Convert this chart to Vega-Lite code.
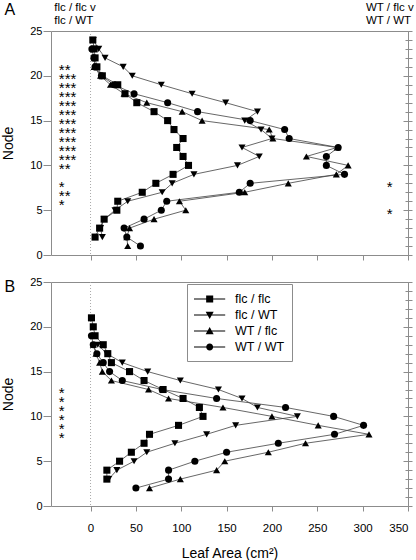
{
  "$schema": "https://vega.github.io/schema/vega-lite/v6.json",
  "padding": {"left": 1, "top": 1, "right": 0, "bottom": 0},
  "bounds": "flush",
  "spacing": 27,
  "config": {
    "font": "Liberation Sans",
    "view": {"stroke": "#8c8c8c", "strokeWidth": 1},
    "axis": {"grid": false, "domain": false, "tickColor": "#8c8c8c", "labelColor": "#000", "titleColor": "#000", "labelFont": "Liberation Sans", "titleFont": "Liberation Sans", "titleFontWeight": "normal"},
    "text": {"font": "Liberation Sans", "color": "#000"}
  },
  "datasets": {
    "series": [
      {"p":"A","g":"flc / flc","n":24,"a":2.5},{"p":"A","g":"flc / flc","n":23,"a":4},{"p":"A","g":"flc / flc","n":22,"a":5},{"p":"A","g":"flc / flc","n":21,"a":7},{"p":"A","g":"flc / flc","n":20,"a":13},{"p":"A","g":"flc / flc","n":19,"a":30},{"p":"A","g":"flc / flc","n":18,"a":38},{"p":"A","g":"flc / flc","n":17,"a":51},{"p":"A","g":"flc / flc","n":16,"a":70},{"p":"A","g":"flc / flc","n":15,"a":85},{"p":"A","g":"flc / flc","n":14,"a":92},{"p":"A","g":"flc / flc","n":13,"a":102},{"p":"A","g":"flc / flc","n":12,"a":95},{"p":"A","g":"flc / flc","n":11,"a":102},{"p":"A","g":"flc / flc","n":10,"a":108},{"p":"A","g":"flc / flc","n":9,"a":91},{"p":"A","g":"flc / flc","n":8,"a":72},{"p":"A","g":"flc / flc","n":7,"a":57},{"p":"A","g":"flc / flc","n":6,"a":30},{"p":"A","g":"flc / flc","n":5,"a":29},{"p":"A","g":"flc / flc","n":4,"a":15},{"p":"A","g":"flc / flc","n":3,"a":10},{"p":"A","g":"flc / flc","n":2,"a":5},
      {"p":"A","g":"flc / WT","n":24,"a":3},{"p":"A","g":"flc / WT","n":23,"a":9},{"p":"A","g":"flc / WT","n":22,"a":16},{"p":"A","g":"flc / WT","n":21,"a":36},{"p":"A","g":"flc / WT","n":20,"a":46},{"p":"A","g":"flc / WT","n":19,"a":78},{"p":"A","g":"flc / WT","n":18,"a":112},{"p":"A","g":"flc / WT","n":17,"a":149},{"p":"A","g":"flc / WT","n":16,"a":184},{"p":"A","g":"flc / WT","n":15,"a":170},{"p":"A","g":"flc / WT","n":14,"a":188},{"p":"A","g":"flc / WT","n":13,"a":200},{"p":"A","g":"flc / WT","n":12,"a":167},{"p":"A","g":"flc / WT","n":11,"a":186},{"p":"A","g":"flc / WT","n":10,"a":162},{"p":"A","g":"flc / WT","n":9,"a":114},{"p":"A","g":"flc / WT","n":8,"a":90},{"p":"A","g":"flc / WT","n":7,"a":79},{"p":"A","g":"flc / WT","n":6,"a":41},{"p":"A","g":"flc / WT","n":5,"a":27},{"p":"A","g":"flc / WT","n":4,"a":15},{"p":"A","g":"flc / WT","n":3,"a":11},{"p":"A","g":"flc / WT","n":2,"a":13},
      {"p":"A","g":"WT / flc","n":21,"a":4},{"p":"A","g":"WT / flc","n":20,"a":11},{"p":"A","g":"WT / flc","n":19,"a":22},{"p":"A","g":"WT / flc","n":18,"a":37},{"p":"A","g":"WT / flc","n":17,"a":62},{"p":"A","g":"WT / flc","n":16,"a":101},{"p":"A","g":"WT / flc","n":15,"a":123},{"p":"A","g":"WT / flc","n":14,"a":197},{"p":"A","g":"WT / flc","n":13,"a":201},{"p":"A","g":"WT / flc","n":12,"a":272},{"p":"A","g":"WT / flc","n":11,"a":238},{"p":"A","g":"WT / flc","n":10,"a":284},{"p":"A","g":"WT / flc","n":9,"a":271},{"p":"A","g":"WT / flc","n":8,"a":218},{"p":"A","g":"WT / flc","n":7,"a":170},{"p":"A","g":"WT / flc","n":6,"a":98},{"p":"A","g":"WT / flc","n":5,"a":105},{"p":"A","g":"WT / flc","n":4,"a":70},{"p":"A","g":"WT / flc","n":3,"a":43},{"p":"A","g":"WT / flc","n":2,"a":40},{"p":"A","g":"WT / flc","n":1,"a":41},
      {"p":"A","g":"WT / WT","n":23,"a":1.5},{"p":"A","g":"WT / WT","n":22,"a":3.7},{"p":"A","g":"WT / WT","n":21,"a":5},{"p":"A","g":"WT / WT","n":20,"a":12},{"p":"A","g":"WT / WT","n":19,"a":26},{"p":"A","g":"WT / WT","n":18,"a":48},{"p":"A","g":"WT / WT","n":17,"a":85},{"p":"A","g":"WT / WT","n":16,"a":118},{"p":"A","g":"WT / WT","n":15,"a":176},{"p":"A","g":"WT / WT","n":14,"a":214},{"p":"A","g":"WT / WT","n":13,"a":219},{"p":"A","g":"WT / WT","n":12,"a":273},{"p":"A","g":"WT / WT","n":11,"a":260},{"p":"A","g":"WT / WT","n":10,"a":260},{"p":"A","g":"WT / WT","n":9,"a":280},{"p":"A","g":"WT / WT","n":8,"a":176},{"p":"A","g":"WT / WT","n":7,"a":164},{"p":"A","g":"WT / WT","n":6,"a":84},{"p":"A","g":"WT / WT","n":5,"a":78},{"p":"A","g":"WT / WT","n":4,"a":59},{"p":"A","g":"WT / WT","n":3,"a":37},{"p":"A","g":"WT / WT","n":2,"a":40},{"p":"A","g":"WT / WT","n":1,"a":55},
      {"p":"B","g":"flc / flc","n":21,"a":1},{"p":"B","g":"flc / flc","n":20,"a":3},{"p":"B","g":"flc / flc","n":19,"a":5},{"p":"B","g":"flc / flc","n":18,"a":14},{"p":"B","g":"flc / flc","n":17,"a":19},{"p":"B","g":"flc / flc","n":16,"a":23},{"p":"B","g":"flc / flc","n":15,"a":43},{"p":"B","g":"flc / flc","n":14,"a":59},{"p":"B","g":"flc / flc","n":13,"a":80},{"p":"B","g":"flc / flc","n":12,"a":102},{"p":"B","g":"flc / flc","n":11,"a":120},{"p":"B","g":"flc / flc","n":10,"a":124},{"p":"B","g":"flc / flc","n":9,"a":97},{"p":"B","g":"flc / flc","n":8,"a":65},{"p":"B","g":"flc / flc","n":7,"a":59},{"p":"B","g":"flc / flc","n":6,"a":45},{"p":"B","g":"flc / flc","n":5,"a":32},{"p":"B","g":"flc / flc","n":4,"a":18},{"p":"B","g":"flc / flc","n":3,"a":18},
      {"p":"B","g":"flc / WT","n":18,"a":8},{"p":"B","g":"flc / WT","n":17,"a":18},{"p":"B","g":"flc / WT","n":16,"a":35},{"p":"B","g":"flc / WT","n":15,"a":63},{"p":"B","g":"flc / WT","n":14,"a":99},{"p":"B","g":"flc / WT","n":13,"a":141},{"p":"B","g":"flc / WT","n":12,"a":167},{"p":"B","g":"flc / WT","n":11,"a":184},{"p":"B","g":"flc / WT","n":10,"a":228},{"p":"B","g":"flc / WT","n":9,"a":160},{"p":"B","g":"flc / WT","n":8,"a":128},{"p":"B","g":"flc / WT","n":7,"a":93},{"p":"B","g":"flc / WT","n":6,"a":62},{"p":"B","g":"flc / WT","n":5,"a":48},{"p":"B","g":"flc / WT","n":4,"a":29},{"p":"B","g":"flc / WT","n":3,"a":20},
      {"p":"B","g":"WT / flc","n":18,"a":3},{"p":"B","g":"WT / flc","n":17,"a":6},{"p":"B","g":"WT / flc","n":16,"a":10},{"p":"B","g":"WT / flc","n":15,"a":13},{"p":"B","g":"WT / flc","n":14,"a":23},{"p":"B","g":"WT / flc","n":13,"a":64},{"p":"B","g":"WT / flc","n":12,"a":86},{"p":"B","g":"WT / flc","n":11,"a":146},{"p":"B","g":"WT / flc","n":10,"a":200},{"p":"B","g":"WT / flc","n":9,"a":251},{"p":"B","g":"WT / flc","n":8,"a":307},{"p":"B","g":"WT / flc","n":7,"a":237},{"p":"B","g":"WT / flc","n":6,"a":196},{"p":"B","g":"WT / flc","n":5,"a":148},{"p":"B","g":"WT / flc","n":4,"a":139},{"p":"B","g":"WT / flc","n":3,"a":99},{"p":"B","g":"WT / flc","n":2,"a":65},
      {"p":"B","g":"WT / WT","n":19,"a":1},{"p":"B","g":"WT / WT","n":18,"a":3},{"p":"B","g":"WT / WT","n":17,"a":7},{"p":"B","g":"WT / WT","n":16,"a":14},{"p":"B","g":"WT / WT","n":15,"a":21},{"p":"B","g":"WT / WT","n":14,"a":35},{"p":"B","g":"WT / WT","n":13,"a":79},{"p":"B","g":"WT / WT","n":12,"a":139},{"p":"B","g":"WT / WT","n":11,"a":215},{"p":"B","g":"WT / WT","n":10,"a":268},{"p":"B","g":"WT / WT","n":9,"a":301},{"p":"B","g":"WT / WT","n":8,"a":269},{"p":"B","g":"WT / WT","n":7,"a":207},{"p":"B","g":"WT / WT","n":6,"a":150},{"p":"B","g":"WT / WT","n":5,"a":115},{"p":"B","g":"WT / WT","n":4,"a":86},{"p":"B","g":"WT / WT","n":3,"a":86},{"p":"B","g":"WT / WT","n":2,"a":50}
    ],
    "stars": [
      {"p":"A","side":"L","n":21,"s":"**"},{"p":"A","side":"L","n":20,"s":"***"},{"p":"A","side":"L","n":19,"s":"***"},{"p":"A","side":"L","n":18,"s":"***"},{"p":"A","side":"L","n":17,"s":"***"},{"p":"A","side":"L","n":16,"s":"***"},{"p":"A","side":"L","n":15,"s":"***"},{"p":"A","side":"L","n":14,"s":"***"},{"p":"A","side":"L","n":13,"s":"***"},{"p":"A","side":"L","n":12,"s":"***"},{"p":"A","side":"L","n":11,"s":"***"},{"p":"A","side":"L","n":10,"s":"**"},{"p":"A","side":"L","n":8,"s":"*"},{"p":"A","side":"L","n":7,"s":"**"},{"p":"A","side":"L","n":6,"s":"*"},
      {"p":"A","side":"R","n":8,"s":"*"},{"p":"A","side":"R","n":5,"s":"*"},
      {"p":"B","side":"L","n":13,"s":"*"},{"p":"B","side":"L","n":12,"s":"*"},{"p":"B","side":"L","n":11,"s":"*"},{"p":"B","side":"L","n":10,"s":"*"},{"p":"B","side":"L","n":9,"s":"*"},{"p":"B","side":"L","n":8,"s":"*"}
    ]
  },
  "vconcat": [
    {
      "width": 357,
      "height": 224,
      "resolve": {"axis": {"y": "independent"}},
      "layer": [
        {
          "data": {"values": [{}]},
          "mark": {"type": "rule", "stroke": "#aaaaaa", "strokeWidth": 1, "strokeDash": [1, 2]},
          "encoding": {"x": {"datum": 0, "type": "quantitative"}}
        },
        {
          "data": {"name": "series"},
          "transform": [{"filter": "datum.p === 'A'"}],
          "mark": {"type": "line", "stroke": "#404040", "strokeWidth": 0.8},
          "encoding": {
            "x": {"field": "a", "type": "quantitative", "scale": {"domain": [-43.6, 350], "nice": false, "zero": false},
                  "axis": {"values": [0, 50, 100, 150, 200, 250, 300, 350], "labels": false, "tickSize": 5, "domain": false, "title": null}},
            "y": {"field": "n", "type": "quantitative", "scale": {"domain": [0, 25], "nice": false, "zero": false},
                  "axis": {"values": [0, 5, 10, 15, 20, 25], "tickSize": 8, "labelFontSize": 11, "labelPadding": 1, "title": "Node", "titleFontSize": 14, "titlePadding": 14, "domain": false}},
            "detail": {"field": "g"},
            "order": {"field": "n", "type": "quantitative"}
          }
        },
        {
          "data": {"name": "series"},
          "transform": [{"filter": "datum.p === 'A'"}],
          "mark": {"type": "point", "filled": true, "color": "#000", "opacity": 1, "size": 50},
          "encoding": {
            "x": {"field": "a", "type": "quantitative"},
            "y": {"field": "n", "type": "quantitative",
                  "axis": {"values": [0,1,2,3,4,5,6,7,8,9,10,11,12,13,14,15,16,17,18,19,20,21,22,23,24,25], "tickSize": 4, "labels": false, "domain": false, "title": null}},
            "shape": {"field": "g", "type": "nominal", "scale": {"domain": ["flc / flc", "flc / WT", "WT / flc", "WT / WT"], "range": ["square", "triangle-down", "triangle-up", "circle"]}, "legend": null}
          }
        },
        {
          "data": {"name": "stars"},
          "transform": [{"filter": "datum.p === 'A' && datum.side === 'L'"}],
          "mark": {"type": "text", "align": "left", "baseline": "alphabetic", "fontSize": 15, "dy": 8.5},
          "encoding": {
            "x": {"datum": -35},
            "y": {"field": "n", "type": "quantitative",
                  "axis": {"orient": "right", "values": [0,1,2,3,4,5,6,7,8,9,10,11,12,13,14,15,16,17,18,19,20,21,22,23,24,25], "tickSize": -3, "labels": false, "domain": false, "title": null}},
            "text": {"field": "s"}
          }
        },
        {
          "data": {"name": "stars"},
          "transform": [{"filter": "datum.p === 'A' && datum.side === 'R'"}],
          "mark": {"type": "text", "align": "center", "baseline": "alphabetic", "fontSize": 15, "dy": 8.5},
          "encoding": {
            "x": {"datum": 329.7},
            "y": {"field": "n", "type": "quantitative",
                  "axis": {"orient": "right", "values": [0, 5, 10, 15, 20, 25], "tickSize": -5, "labels": false, "domain": false, "title": null}},
            "text": {"field": "s"}
          }
        },
        {
          "data": {"values": [{}]},
          "mark": {"type": "text", "align": "left", "baseline": "alphabetic", "fontSize": 11.5, "lineHeight": 12.2},
          "encoding": {
            "x": {"datum": -40},
            "y": {"datum": 27.18, "axis": null},
            "text": {"value": ["flc / flc v", "flc / WT"]}
          }
        },
        {
          "data": {"values": [{}]},
          "mark": {"type": "text", "align": "left", "baseline": "alphabetic", "fontSize": 11.5, "lineHeight": 12.2},
          "encoding": {
            "x": {"datum": 303.7},
            "y": {"datum": 27.18, "axis": null},
            "text": {"value": ["WT / flc v", "WT / WT"]}
          }
        },
        {
          "data": {"values": [{}]},
          "mark": {"type": "text", "align": "left", "baseline": "alphabetic", "fontSize": 16},
          "encoding": {
            "x": {"datum": -95},
            "y": {"datum": 26.79, "axis": null},
            "text": {"value": "A"}
          }
        }
      ]
    },
    {
      "width": 357,
      "height": 224,
      "resolve": {"axis": {"y": "independent"}, "scale": {"shape": "independent"}},
      "layer": [
        {
          "data": {"values": [{}]},
          "mark": {"type": "rule", "stroke": "#aaaaaa", "strokeWidth": 1, "strokeDash": [1, 2]},
          "encoding": {"x": {"datum": 0, "type": "quantitative"}}
        },
        {
          "data": {"name": "series"},
          "transform": [{"filter": "datum.p === 'B'"}],
          "mark": {"type": "line", "stroke": "#404040", "strokeWidth": 0.8},
          "encoding": {
            "x": {"field": "a", "type": "quantitative", "scale": {"domain": [-43.6, 350], "nice": false, "zero": false},
                  "axis": {"values": [0, 50, 100, 150, 200, 250, 300, 350], "tickSize": 5, "labelFontSize": 11.5, "labelPadding": 11, "title": "Leaf Area (cm²)", "titleFontSize": 14, "titlePadding": 12.5, "domain": false}},
            "y": {"field": "n", "type": "quantitative", "scale": {"domain": [0, 25], "nice": false, "zero": false},
                  "axis": {"values": [0, 5, 10, 15, 20, 25], "tickSize": 8, "labelFontSize": 11, "labelPadding": 1, "title": "Node", "titleFontSize": 14, "titlePadding": 14, "domain": false}},
            "detail": {"field": "g"},
            "order": {"field": "n", "type": "quantitative"}
          }
        },
        {
          "data": {"name": "series"},
          "transform": [{"filter": "datum.p === 'B'"}],
          "mark": {"type": "point", "filled": true, "color": "#000", "opacity": 1, "size": 50},
          "encoding": {
            "x": {"field": "a", "type": "quantitative"},
            "y": {"field": "n", "type": "quantitative",
                  "axis": {"values": [0,1,2,3,4,5,6,7,8,9,10,11,12,13,14,15,16,17,18,19,20,21,22,23,24,25], "tickSize": 4, "labels": false, "domain": false, "title": null}},
            "shape": {"field": "g", "type": "nominal", "scale": {"domain": ["flc / flc", "flc / WT", "WT / flc", "WT / WT"], "range": ["square", "triangle-down", "triangle-up", "circle"]}, "legend": null}
          }
        },
        {
          "data": {"name": "stars"},
          "transform": [{"filter": "datum.p === 'B'"}],
          "mark": {"type": "text", "align": "left", "baseline": "alphabetic", "fontSize": 15, "dy": 8.5},
          "encoding": {
            "x": {"datum": -35},
            "y": {"field": "n", "type": "quantitative",
                  "axis": {"orient": "right", "values": [0,1,2,3,4,5,6,7,8,9,10,11,12,13,14,15,16,17,18,19,20,21,22,23,24,25], "tickSize": -3, "labels": false, "domain": false, "title": null}},
            "text": {"field": "s"}
          }
        },
        {
          "data": {"values": [{}]},
          "mark": {"type": "text", "align": "left", "baseline": "alphabetic", "fontSize": 16},
          "encoding": {
            "x": {"datum": -95},
            "y": {"datum": 23.9, "axis": {"orient": "right", "values": [0, 5, 10, 15, 20, 25], "tickSize": -5, "labels": false, "domain": false, "title": null}},
            "text": {"value": "B"}
          }
        },
        {
          "data": {"name": "series"},
          "transform": [{"filter": "datum.p === 'B'"}],
          "mark": {"type": "point", "filled": true, "color": "#000", "opacity": 0, "size": 256},
          "encoding": {
            "x": {"field": "a", "type": "quantitative"},
            "y": {"field": "n", "type": "quantitative", "axis": null},
            "shape": {"field": "g", "type": "nominal",
                      "scale": {"domain": ["flc / flc", "flc / WT", "WT / flc", "WT / WT"],
                                "range": ["M-1,-0.055H2.9V0.055H-1ZM0.52,-0.44H1.4V0.44H0.52Z", "M-1,-0.055H2.9V0.055H-1ZM0.46,-0.4H1.46L0.96,0.5Z", "M-1,-0.055H2.9V0.055H-1ZM1.46,0.4H0.46L0.96,-0.5Z", "M-1,-0.055H2.9V0.055H-1ZM1.4,0A0.44,0.44,0,1,1,0.52,0A0.44,0.44,0,1,1,1.4,0Z"]},
                      "legend": {"orient": "none", "legendX": 136, "legendY": 2, "title": null, "symbolSize": 256, "symbolFillColor": "#000", "symbolOpacity": 1, "symbolStrokeWidth": 0, "labelFontSize": 12.5, "labelOffset": 25, "padding": 7, "rowPadding": 1, "strokeColor": "#8c8c8c", "fillColor": "#ffffff", "labelFont": "Liberation Sans", "labelLimit": 200}}
          }
        }
      ]
    }
  ]
}
